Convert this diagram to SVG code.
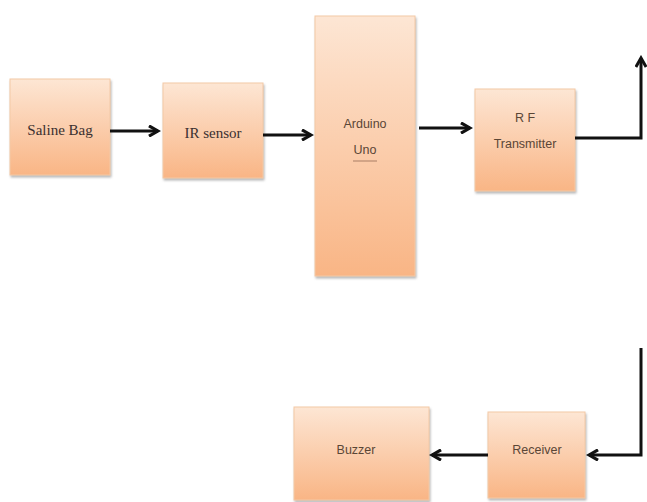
<svg xmlns="http://www.w3.org/2000/svg" width="647" height="502" viewBox="0 0 647 502">
<defs>
<linearGradient id="g" x1="0" y1="0" x2="0" y2="1">
<stop offset="0" stop-color="#fde6d4"/>
<stop offset="1" stop-color="#f9b585"/>
</linearGradient>
<marker id="arr" viewBox="0 0 10 10" refX="8" refY="5" markerWidth="4.3" markerHeight="4.3" orient="auto" markerUnits="strokeWidth">
<path d="M1,1 L8,5 L1,9" fill="none" stroke="#111" stroke-width="2.4" stroke-linejoin="miter"/>
</marker>
<filter id="sh" x="-10%" y="-10%" width="130%" height="130%">
<feDropShadow dx="1" dy="2" stdDeviation="1" flood-color="#888" flood-opacity="0.6"/>
</filter>
</defs>
<style>
.box{fill:url(#g);stroke:#f3c9a6;stroke-width:1;filter:url(#sh)}
.serif{font-family:"Liberation Serif","Times New Roman",serif;font-size:15px;fill:#3a3030;text-anchor:middle}
.sans{font-family:"Liberation Sans",Arial,sans-serif;font-size:12.5px;fill:#5a4636;text-anchor:middle}
.con{fill:none;stroke:#111;stroke-width:3;marker-end:url(#arr)}
</style>
<rect width="647" height="502" fill="#ffffff"/>
<g id="saline-bag"><rect class="box" x="10" y="79" width="100" height="96"/><text class="serif" x="60" y="135">Saline Bag</text></g>
<g id="ir-sensor"><rect class="box" x="163" y="83" width="100" height="95"/><text class="serif" x="213" y="138">IR sensor</text></g>
<g id="arduino"><rect class="box" x="315" y="16" width="100" height="260"/><text class="sans" x="365" y="128">Arduino</text><text class="sans" x="365" y="154">Uno</text><line x1="353" y1="161" x2="377" y2="161" stroke="#b88a70" stroke-width="1.2"/></g>
<g id="rf-transmitter"><rect class="box" x="475" y="89" width="100" height="102"/><text class="sans" x="525" y="122">R F</text><text class="sans" x="525" y="148">Transmitter</text></g>
<g id="receiver"><rect class="box" x="488" y="412" width="97" height="86"/><text class="sans" x="537" y="454">Receiver</text></g>
<g id="buzzer"><rect class="box" x="294" y="407" width="135" height="93"/><text class="sans" x="356" y="454">Buzzer</text></g>
<g id="connectors">
<path class="con" d="M110,131 H158"/>
<path class="con" d="M263,135 H311"/>
<path class="con" d="M419,128 H470"/>
<path class="con" d="M575,138 H641 V58"/>
<path class="con" d="M641,348 V455 H589"/>
<path class="con" d="M488,455 H432"/>
</g>
</svg>
